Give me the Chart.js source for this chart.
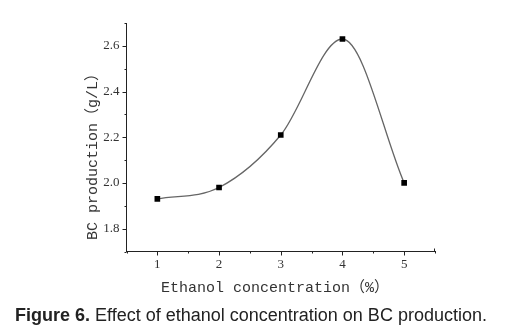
<!DOCTYPE html>
<html>
<head>
<meta charset="utf-8">
<script src="https://cdn.jsdelivr.net/npm/chart.js@4/dist/chart.umd.min.js"></script>
<style>
  body { margin: 0; background: #fff; }
  #wrap { position: relative; width: 516px; height: 329px; }
  #chart { position: absolute; left: 0; top: 0; }
  .ytitle {
    position: absolute; left: 91px; top: 153px;
    transform: translate(-50%, -50%) rotate(-90deg);
    font: 15px "Liberation Mono", "Noto Sans CJK SC", monospace;
    color: #333; white-space: nowrap;
  }
  .xtitle {
    position: absolute; left: 275px; top: 286px;
    transform: translate(-50%, -50%);
    font: 15px "Liberation Mono", "Noto Sans CJK SC", monospace;
    color: #333; white-space: nowrap;
  }
  .caption {
    position: absolute; left: 15px; top: 305px;
    font: 18px "Liberation Sans", Arial, sans-serif;
    line-height: 20px;
    color: #222; white-space: nowrap;
  }
  .caption b { font-weight: bold; }
</style>
</head>
<body>
<div id="wrap">
  <canvas id="chart" width="516" height="300"></canvas>
  <div class="ytitle">BC production（g/L）</div>
  <div class="xtitle">Ethanol concentration（%）</div>
  <div class="caption"><b>Figure 6.</b> Effect of ethanol concentration on BC production.</div>
</div>
<script>
// ethanol concentration (%) and BC yield (g/L)
const ethanol = [1, 2, 3, 4, 5];
const bcYield = [1.93, 1.98, 2.21, 2.63, 2.00];

const xMajor = [1, 2, 3, 4, 5];
const xMinor = [0.5, 1.5, 2.5, 3.5, 4.5, 5.5];
const yMajor = [1.8, 2.0, 2.2, 2.4, 2.6];
const yMinor = [1.7, 1.9, 2.1, 2.3, 2.5, 2.7];

// Origin-style outward tick marks, major and minor
const tickMarks = {
  id: 'tickMarks',
  afterDraw(chart) {
    const { ctx, scales: { x, y }, chartArea: a } = chart;
    ctx.save();
    ctx.strokeStyle = '#222';
    ctx.lineWidth = 1;
    ctx.beginPath();
    xMajor.forEach(v => {
      const px = Math.round(x.getPixelForValue(v)) + 0.5;
      ctx.moveTo(px, a.bottom); ctx.lineTo(px, a.bottom + 4);
    });
    xMinor.forEach(v => {
      const px = Math.round(x.getPixelForValue(v)) + 0.5;
      ctx.moveTo(px, a.bottom); ctx.lineTo(px, a.bottom + 2);
    });
    yMajor.forEach(v => {
      const py = Math.round(y.getPixelForValue(v)) + 0.5;
      ctx.moveTo(a.left, py); ctx.lineTo(a.left - 4, py);
    });
    yMinor.forEach(v => {
      const py = Math.round(y.getPixelForValue(v)) + 0.5;
      ctx.moveTo(a.left, py); ctx.lineTo(a.left - 2, py);
    });
    // small cap at the right end of the x axis
    ctx.moveTo(a.right - 0.5, a.bottom); ctx.lineTo(a.right - 0.5, a.bottom - 3);
    ctx.stroke();
    ctx.restore();
  }
};

new Chart(document.getElementById('chart'), {
  type: 'line',
  data: {
    datasets: [{
      data: ethanol.map((v, i) => ({ x: v, y: bcYield[i] })),
      borderColor: '#666',
      borderWidth: 1.3,
      cubicInterpolationMode: 'monotone',
      pointStyle: 'rect',
      pointRadius: 4,
      pointBackgroundColor: '#000',
      pointBorderColor: '#000',
      pointBorderWidth: 0,
      fill: false
    }]
  },
  options: {
    responsive: false,
    animation: false,
    layout: { padding: { left: 0, right: 81, top: 23, bottom: 0 } },
    plugins: { legend: { display: false }, tooltip: { enabled: false } },
    scales: {
      x: {
        type: 'linear',
        min: 0.5, max: 5.5,
        afterBuildTicks: s => { s.ticks = xMajor.map(v => ({ value: v })); },
        afterFit: s => { s.height = 48.5; },
        grid: { display: false, drawTicks: false },
        border: { display: true, color: '#222', width: 1 },
        ticks: {
          padding: 5,
          color: '#333',
          font: { family: '"Liberation Serif", serif', size: 13 },
          callback: v => String(v)
        }
      },
      y: {
        min: 1.7, max: 2.7,
        afterBuildTicks: s => { s.ticks = yMajor.map(v => ({ value: v })); },
        afterFit: s => { s.width = 126.5; },
        grid: { display: false, drawTicks: false },
        border: { display: true, color: '#222', width: 1 },
        ticks: {
          padding: 7,
          color: '#333',
          font: { family: '"Liberation Serif", serif', size: 13 },
          callback: v => v.toFixed(1)
        }
      }
    }
  },
  plugins: [tickMarks]
});
</script>
</body>
</html>
